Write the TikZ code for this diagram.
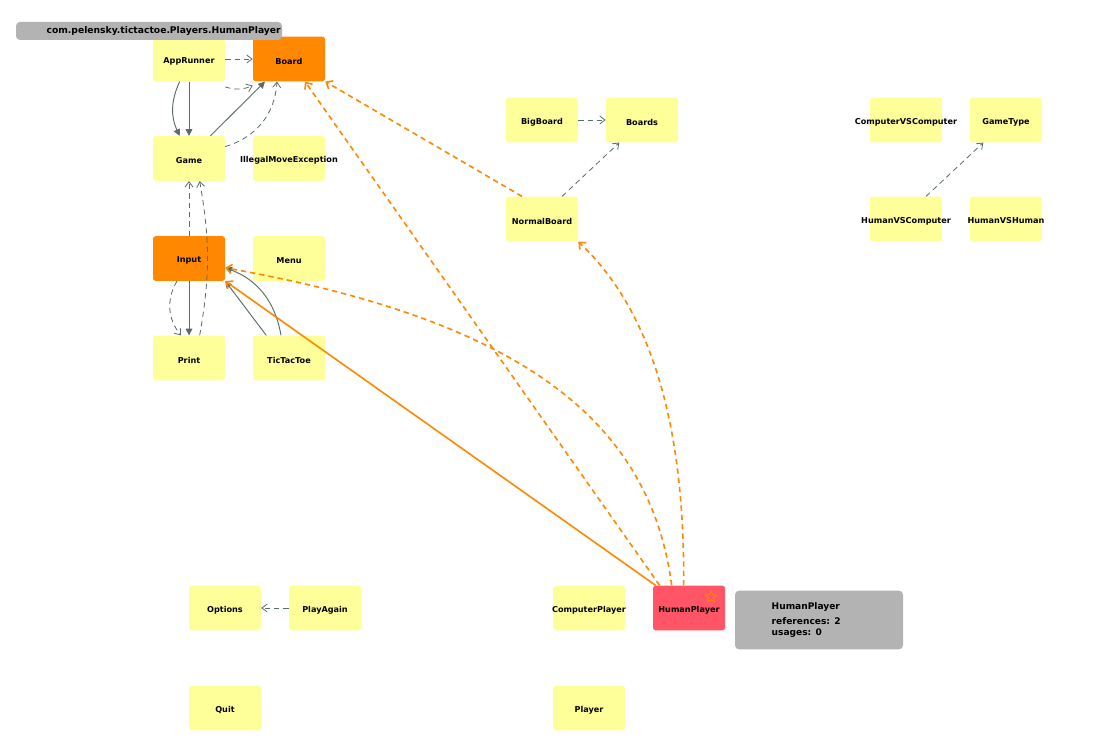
\documentclass[tikz,border=0pt]{standalone}
\usepackage{fontspec}
\setmainfont{DejaVu Sans}
\usetikzlibrary{arrows.meta,shapes.geometric}
\definecolor{ny}{HTML}{FFFF99}
\definecolor{no}{HTML}{FF8800}
\definecolor{nr}{HTML}{FF5566}
\definecolor{eg}{HTML}{5A6B6B}
\definecolor{tipg}{HTML}{B3B3B3}
\begin{document}
\begin{tikzpicture}[x=0.75pt,y=-0.75pt,
  lab/.style={font=\fontsize{6.1}{7}\selectfont\bfseries,text=black,yshift=-1.5pt},
  box/.style={draw=none,rounded corners=2pt,minimum width=54pt,minimum height=33.5pt,inner sep=0pt,label={[lab]center:#1}},
  cy/.style={box=#1,fill=ny},
  co/.style={box=#1,fill=no},
  cr/.style={box=#1,fill=nr},
  dep/.style={eg,dash pattern=on 4pt off 3pt,line width=0.6pt,-{Straight Barb[open,length=4pt,width=6pt]}},
  sol/.style={eg,line width=0.7pt,-{Triangle[length=5pt,width=5pt]}},
  odep/.style={no,line width=1.2pt,dash pattern=on 4pt off 3pt,-{Straight Barb[length=4pt,width=7pt]}},
  osol/.style={no,line width=1.2pt,-{Straight Barb[length=4pt,width=7pt]}}]
\useasboundingbox (0,0) rectangle (1099,752);
\fill[white] (0,0) rectangle (1099,752);
\node[cy=AppRunner] (apprunner) at (189,59) {};
\node[co=Board] (board) at (289,59) {};
\node[cy=Game] (game) at (189,158.5) {};
\node[cy=IllegalMoveException] (illegal) at (289,158.5) {};
\node[co=Input] (input) at (189,258.5) {};
\node[cy=Menu] (menu) at (289,258.5) {};
\node[cy=Print] (print) at (189,358) {};
\node[cy=TicTacToe] (tictactoe) at (289,358) {};
\node[cy=BigBoard] (bigboard) at (542,120) {};
\node[cy=Boards] (boards) at (642,120) {};
\node[cy=NormalBoard] (normalboard) at (542,219) {};
\node[cy=ComputerVSComputer] (cvc) at (906,120) {};
\node[cy=GameType] (gametype) at (1006,120) {};
\node[cy=HumanVSComputer] (hvc) at (906,219) {};
\node[cy=HumanVSHuman] (hvh) at (1006,219) {};
\node[cy=Options] (options) at (225,608) {};
\node[cy=PlayAgain] (playagain) at (325,608) {};
\node[cy=Quit] (quit) at (225,708) {};
\node[cy=ComputerPlayer] (computerplayer) at (589,608) {};
\node[cr=HumanPlayer] (humanplayer) at (689,608) {};
\node[star,star points=5,star point ratio=2.2,draw=no,line width=0.6pt,minimum size=9pt,inner sep=0pt] (star) at (711,597) {};
\node[fill=tipg,rounded corners=3pt,minimum width=126pt,minimum height=44pt,inner sep=0pt] (tip) at (819,620) {};
\node[anchor=west,font=\fontsize{6.8}{8.5}\selectfont\bfseries,align=left] (tiptext) at (767,620) {HumanPlayer\\[3pt]references: 2\\usages: 0};
\node[fill=tipg,rounded corners=3pt,minimum width=199.5pt,minimum height=13.5pt,inner sep=0pt,font=\fontsize{6.9}{7}\selectfont\bfseries] (title) at (149,31) {\hspace*{22pt}com.pelensky.tictactoe.Players.HumanPlayer};
\node[cy=Player] (player) at (589,708) {};
% gray edges
\draw[dep] (apprunner.east) -- (board.west);
\draw[dep] ([yshift=-4pt]apprunner.south east) to[bend right=20] ([yshift=-3pt]board.south west);
\draw[sol] ([xshift=-7pt]apprunner.south) to[bend right=25] ([xshift=-7pt]game.north);
\draw[sol] (apprunner.south) -- (game.north);
\draw[sol] ([xshift=16pt]game.north) -- ([xshift=-18pt]board.south);
\draw[dep] ([yshift=-8pt]game.north east) to[bend right=35] ([xshift=-9pt]board.south);
\draw[dep] (input.north) -- (game.south);
\draw[dep] ([xshift=8pt]print.north) to[bend right=10] ([xshift=8pt]game.south);
\draw[sol] (input.south) -- (print.north);
\draw[dep] ([xshift=-9pt]input.south) to[bend right=35] ([xshift=-6pt]print.north);
\draw[sol] ([xshift=-17pt]tictactoe.north) -- (input.south east);
\draw[sol] ([xshift=-6pt]tictactoe.north) to[bend right=30] ([yshift=-7pt]input.east);
\draw[dep] (bigboard.east) -- (boards.west);
\draw[dep] ([xshift=15pt]normalboard.north) -- ([xshift=-17pt]boards.south);
\draw[dep] ([xshift=15pt]hvc.north) -- ([xshift=-17pt]gametype.south);
\draw[dep] (playagain.west) -- (options.east);
% orange edges
\draw[odep] ([xshift=-15pt]normalboard.north) -- (board.south east);
\draw[odep] ([xshift=-22pt]humanplayer.north) -- ([xshift=12pt]board.south);
\draw[odep] ([xshift=-4pt]humanplayer.north) .. controls (685,400) and (640,300) .. (normalboard.south east);
\draw[odep] ([xshift=-13pt]humanplayer.north) .. controls (650,420) and (520,320) .. ([yshift=-7pt]input.east);
\draw[osol] ([xshift=-25pt]humanplayer.north) -- (input.south east);
\end{tikzpicture}
\end{document}
